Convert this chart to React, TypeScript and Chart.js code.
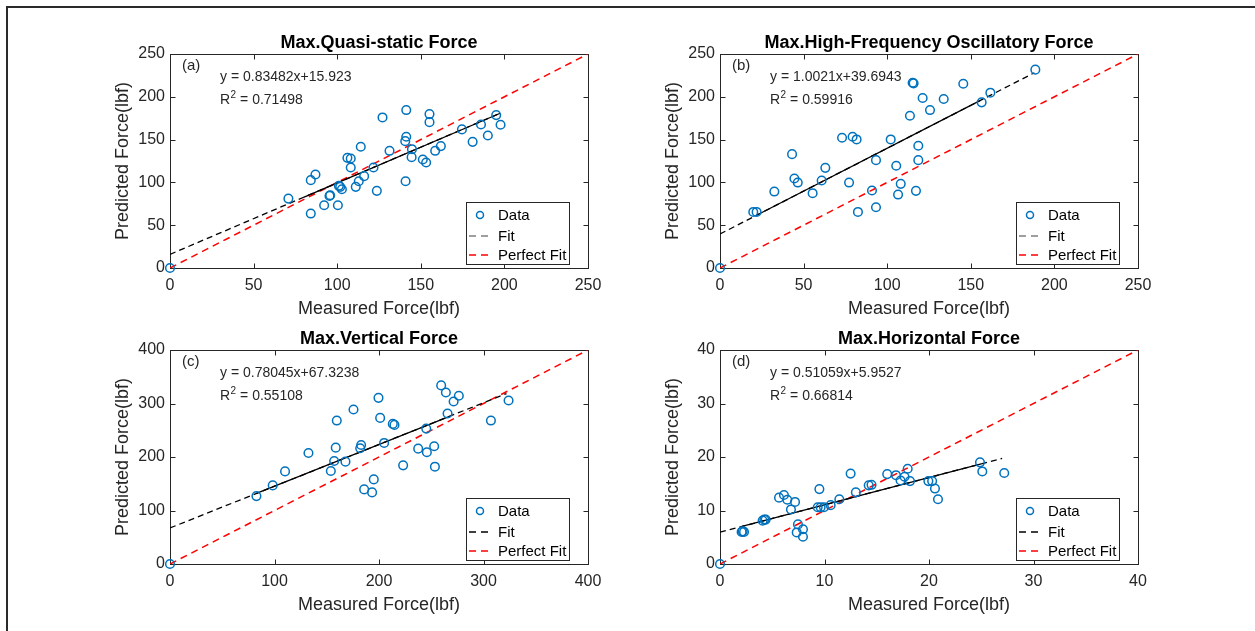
import React, { useEffect, useRef } from "react";
import { Chart, registerables } from "chart.js";

Chart.register(...registerables);
Chart.defaults.font.family = "'Liberation Sans', Arial, sans-serif";

// ---------- data ----------
const quasiMeasured = [0, 70.8, 84.2, 87.0, 84.2, 92.2, 95.4, 95.8, 100.4, 101.0, 101.8, 102.8, 111.1, 112.9, 116.1, 106.1, 108.1, 108.1, 114.1, 121.7, 123.7, 127.1, 131.3, 140.9, 141.3, 141.3, 140.7, 144.7, 144.5, 151.2, 153.2, 155.2, 155.2, 158.6, 162.0, 174.6, 181.0, 186.0, 190.1, 195.1, 197.7];
const quasiPredicted = [0, 81.1, 102.6, 109.2, 63.6, 73.3, 84.2, 85.0, 73.3, 96.0, 94.8, 92.0, 94.8, 101.4, 107.3, 128.7, 127.9, 117.4, 141.6, 117.4, 90.1, 175.9, 136.9, 101.4, 184.5, 153.3, 148.2, 138.8, 129.5, 126.8, 123.2, 179.8, 170.4, 136.9, 142.4, 161.9, 147.4, 167.7, 154.8, 178.6, 167.3];

const hfMeasured = [0, 19.9, 21.9, 32.5, 43.1, 44.5, 46.5, 55.4, 60.8, 63.0, 73.0, 77.2, 79.3, 81.7, 82.5, 90.9, 93.3, 93.3, 102.1, 105.4, 106.5, 108.1, 113.6, 115.2, 115.8, 117.2, 118.6, 118.6, 121.2, 125.6, 133.8, 145.5, 156.5, 161.7, 188.6];
const hfPredicted = [0, 65.5, 65.5, 89.3, 133.0, 104.5, 99.8, 87.4, 102.2, 117.0, 152.1, 99.8, 153.3, 150.2, 65.5, 90.5, 126.0, 71.0, 150.2, 119.4, 85.8, 98.3, 177.8, 216.4, 215.7, 90.1, 142.8, 126.0, 198.6, 184.5, 197.4, 215.3, 193.5, 204.8, 231.7];

const vertMeasured = [0, 82.7, 98.3, 110.1, 132.5, 153.9, 157.1, 158.6, 159.6, 167.9, 175.6, 182.0, 182.9, 185.8, 193.4, 195.0, 199.5, 201.1, 204.9, 213.2, 214.8, 223.1, 237.5, 245.2, 245.8, 252.8, 253.5, 259.5, 264.0, 265.6, 271.4, 276.4, 307.1, 324.0];
const vertPredicted = [0, 126.9, 146.9, 173.1, 207.5, 173.8, 192.5, 217.5, 268.1, 191.3, 288.8, 216.3, 222.5, 139.4, 133.8, 158.1, 310.6, 273.1, 226.3, 261.9, 260.0, 184.4, 215.6, 253.1, 208.8, 220.0, 181.9, 333.8, 320.6, 281.3, 303.8, 314.4, 268.1, 305.6];

const horMeasured = [0, 2.07, 2.17, 2.3, 4.08, 4.24, 4.37, 5.65, 6.12, 6.44, 6.79, 7.18, 7.34, 7.46, 7.94, 7.94, 9.35, 9.51, 9.63, 9.95, 10.59, 11.42, 12.5, 13.0, 14.23, 14.5, 16.0, 16.84, 17.28, 17.66, 17.96, 18.18, 19.94, 20.3, 20.57, 20.86, 24.88, 25.1, 27.2];
const horPredicted = [0, 6.0, 6.1, 6.0, 8.1, 8.3, 8.3, 12.4, 12.9, 12.0, 10.2, 11.6, 5.9, 7.4, 6.5, 5.1, 10.6, 14.0, 10.6, 10.6, 11.0, 12.1, 16.9, 13.4, 14.7, 14.8, 16.8, 16.6, 15.6, 16.3, 17.8, 15.5, 15.5, 15.5, 14.1, 12.1, 19.0, 17.3, 17.0];

const titles = ["Max.Quasi-static Force", "Max.High-Frequency Oscillatory Force", "Max.Vertical Force", "Max.Horizontal Force"];
const panelLabels = ["(a)", "(b)", "(c)", "(d)"];
const slopes = [0.83482, 1.0021, 0.78045, 0.51059];
const intercepts = [15.923, 39.6943, 67.3238, 5.9527];
const equationTexts = ["y = 0.83482x+15.923", "y = 1.0021x+39.6943", "y = 0.78045x+67.3238", "y = 0.51059x+5.9527"];
const r2Texts = ["0.71498", "0.59916", "0.55108", "0.66814"];
const fitRanges = [[0, 198], [0, 188], [0, 322], [0, 27]];
const solidRanges = [[80.2, 197.5], [21.9, 155.5], [82.7, 267.5], [2.1, 25.0]];
const axisMax = [250, 250, 400, 40];
const axisStep = [50, 50, 100, 10];
const xAxisTitle = "Measured Force(lbf)";
const yAxisTitle = "Predicted Force(lbf)";
const legendLabels = ["Data", "Fit", "Perfect Fit"];

const measuredSets = [quasiMeasured, hfMeasured, vertMeasured, horMeasured];
const predictedSets = [quasiPredicted, hfPredicted, vertPredicted, horPredicted];

// ---------- layout ----------
const plotBoxes = [
  { left: 170, top: 54, right: 588, bottom: 268 },
  { left: 720, top: 54, right: 1138, bottom: 268 },
  { left: 170, top: 350, right: 588, bottom: 564 },
  { left: 720, top: 350, right: 1138, bottom: 564 },
];
const PAD_TOP = 35;
const PAD_RIGHT = 25;
const Y_AXIS_W = 75;
const X_AXIS_H = 52;
const AXIS_COLOR = "#262626";
const DATA_COLOR = "#0072BD";
const FONT = "'Liberation Sans', Arial, sans-serif";
const fitLegendColors = ["#7f7f7f", "#7f7f7f", "#000000", "#000000"];

function makeDecorPlugin(i: number) {
  return {
    id: "decor" + i,
    beforeDatasetsDraw(chart: any) {
      const { ctx, chartArea: ca, scales } = chart;
      ctx.save();
      ctx.strokeStyle = AXIS_COLOR;
      ctx.lineWidth = 1;
      const L = Math.round(ca.left) + 0.5, R = Math.round(ca.right) + 0.5;
      const T = Math.round(ca.top) + 0.5, B = Math.round(ca.bottom) + 0.5;
      ctx.strokeRect(L, T, R - L, B - T);
      const tl = 5;
      ctx.beginPath();
      scales.x.ticks.forEach((t: any) => {
        const px = Math.round(scales.x.getPixelForValue(t.value)) + 0.5;
        ctx.moveTo(px, B); ctx.lineTo(px, B - tl);
        ctx.moveTo(px, T); ctx.lineTo(px, T + tl);
      });
      scales.y.ticks.forEach((t: any) => {
        const py = Math.round(scales.y.getPixelForValue(t.value)) + 0.5;
        ctx.moveTo(L, py); ctx.lineTo(L + tl, py);
        ctx.moveTo(R, py); ctx.lineTo(R - tl, py);
      });
      ctx.stroke();
      ctx.restore();
    },
    afterDraw(chart: any) {
      const { ctx, chartArea: ca } = chart;
      ctx.save();
      // title
      ctx.fillStyle = "#000";
      ctx.font = `bold 18px ${FONT}`;
      ctx.textAlign = "center";
      ctx.textBaseline = "alphabetic";
      ctx.fillText(titles[i], (ca.left + ca.right) / 2, ca.top - 6);
      // panel label
      ctx.fillStyle = AXIS_COLOR;
      ctx.font = `15px ${FONT}`;
      ctx.textAlign = "left";
      ctx.textBaseline = "middle";
      ctx.fillText(panelLabels[i], ca.left + 12, ca.top + 12);
      // equation
      ctx.font = `14px ${FONT}`;
      ctx.fillText(equationTexts[i], ca.left + 50, ca.top + 23);
      // R^2
      let x = ca.left + 50;
      const yR = ca.top + 46;
      ctx.fillText("R", x, yR);
      x += ctx.measureText("R").width;
      ctx.font = `10px ${FONT}`;
      ctx.fillText("2", x + 0.5, yR - 5);
      x += ctx.measureText("2").width + 0.5;
      ctx.font = `14px ${FONT}`;
      ctx.fillText(" = " + r2Texts[i], x, yR);

      // legend
      const bl = ca.right - 122, br = ca.right - 19;
      const bb = ca.bottom - 4, bt = bb - 62;
      ctx.fillStyle = "#fff";
      ctx.fillRect(bl, bt, br - bl, bb - bt);
      ctx.strokeStyle = AXIS_COLOR;
      ctx.lineWidth = 1;
      ctx.strokeRect(Math.round(bl) + 0.5, Math.round(bt) + 0.5, br - bl, bb - bt);
      const rows = [bt + 13, bt + 34, bt + 53];
      // data marker
      ctx.strokeStyle = DATA_COLOR;
      ctx.lineWidth = 1.5;
      ctx.beginPath();
      ctx.arc(bl + 14, rows[0], 3.5, 0, Math.PI * 2);
      ctx.stroke();
      // fit sample
      ctx.strokeStyle = fitLegendColors[i];
      ctx.lineWidth = 1.3;
      ctx.setLineDash([7, 5]);
      ctx.beginPath();
      ctx.moveTo(bl + 3, rows[1]); ctx.lineTo(bl + 27, rows[1]);
      ctx.stroke();
      ctx.strokeStyle = "#FF0000";
      ctx.lineWidth = 1.5;
      ctx.beginPath();
      ctx.moveTo(bl + 3, rows[2]); ctx.lineTo(bl + 27, rows[2]);
      ctx.stroke();
      ctx.setLineDash([]);
      ctx.fillStyle = "#000";
      ctx.font = `15px ${FONT}`;
      ctx.textAlign = "left";
      ctx.textBaseline = "middle";
      legendLabels.forEach((lab, k) => ctx.fillText(lab, bl + 32, rows[k] + 1));
      ctx.restore();
    },
  };
}

function Panel({ i }: { i: number }) {
  const ref = useRef<HTMLCanvasElement>(null);
  const box = plotBoxes[i];
  const plotW = box.right - box.left;
  const plotH = box.bottom - box.top;
  const width = Y_AXIS_W + plotW + PAD_RIGHT;
  const height = PAD_TOP + plotH + X_AXIS_H;

  useEffect(() => {
    const canvas = ref.current;
    if (!canvas) return;
    const m = slopes[i], b = intercepts[i], max = axisMax[i];
    const xs = measuredSets[i], ys = predictedSets[i];
    const [f0, f1] = fitRanges[i];
    const [s0, s1] = solidRanges[i];
    const tickFont = { size: 16, family: FONT };
    const titleFont = { size: 18, family: FONT };
    const chart = new Chart(canvas, {
      type: "scatter",
      data: {
        datasets: [
          {
            label: "Data",
            data: xs.map((x, k) => ({ x, y: ys[k] })),
            pointStyle: "circle",
            pointRadius: 4.3,
            pointBorderWidth: 1.5,
            borderColor: DATA_COLOR,
            backgroundColor: "rgba(0,0,0,0)",
            pointBackgroundColor: "rgba(0,0,0,0)",
            pointBorderColor: DATA_COLOR,
            showLine: false,
            clip: false,
          } as any,
          {
            type: "line",
            label: "FitSolid",
            data: [{ x: s0, y: m * s0 + b }, { x: s1, y: m * s1 + b }],
            borderColor: "#000",
            borderWidth: 1.3,
            pointRadius: 0,
            fill: false,
          } as any,
          {
            type: "line",
            label: "Fit",
            data: [{ x: f0, y: m * f0 + b }, { x: f1, y: m * f1 + b }],
            borderColor: "#000",
            borderWidth: 1.3,
            borderDash: [6, 4],
            pointRadius: 0,
            fill: false,
          } as any,
          {
            type: "line",
            label: "Perfect Fit",
            data: [{ x: 0, y: 0 }, { x: max, y: max }],
            borderColor: "#FF0000",
            borderWidth: 1.5,
            borderDash: [7, 5],
            pointRadius: 0,
            fill: false,
          } as any,
        ],
      },
      options: {
        responsive: false,
        animation: false,
        events: [],
        layout: { padding: { top: PAD_TOP, right: PAD_RIGHT, left: 0, bottom: 0 } },
        plugins: {
          legend: { display: false },
          tooltip: { enabled: false },
          title: { display: false },
        },
        scales: {
          x: {
            type: "linear",
            position: "bottom",
            min: 0,
            max,
            ticks: { stepSize: axisStep[i], color: AXIS_COLOR, font: tickFont, padding: 8, maxRotation: 0, autoSkip: false },
            grid: { display: false, drawTicks: false },
            border: { display: false },
            title: { display: true, text: xAxisTitle, color: AXIS_COLOR, font: titleFont, padding: { top: 0, bottom: 0 } },
            afterFit: (s: any) => { s.height = X_AXIS_H; s.paddingLeft = 0; s.paddingRight = 0; },
          },
          y: {
            type: "linear",
            position: "left",
            min: 0,
            max,
            ticks: { stepSize: axisStep[i], color: AXIS_COLOR, font: tickFont, padding: 5, autoSkip: false },
            grid: { display: false, drawTicks: false },
            border: { display: false },
            title: { display: true, text: yAxisTitle, color: AXIS_COLOR, font: titleFont, padding: { top: 17, bottom: 0 } },
            afterFit: (s: any) => { s.width = Y_AXIS_W; s.paddingTop = 0; s.paddingBottom = 0; },
          },
        },
      } as any,
      plugins: [makeDecorPlugin(i)],
    });
    return () => chart.destroy();
  }, [i]);

  return (
    <canvas
      ref={ref}
      width={width}
      height={height}
      style={{ position: "absolute", left: box.left - Y_AXIS_W, top: box.top - PAD_TOP, width, height }}
    />
  );
}

export default function App() {
  return (
    <div style={{ position: "fixed", left: 0, top: 0, width: 1255, height: 631, overflow: "hidden", background: "#fff" }}>
      <div
        style={{
          position: "absolute",
          left: 6,
          top: 6,
          width: 1300,
          height: 700,
          borderTop: "2px solid #2a2a2a",
          borderLeft: "2px solid #2a2a2a",
        }}
      />
      {[0, 1, 2, 3].map((i) => (
        <Panel key={i} i={i} />
      ))}
    </div>
  );
}
